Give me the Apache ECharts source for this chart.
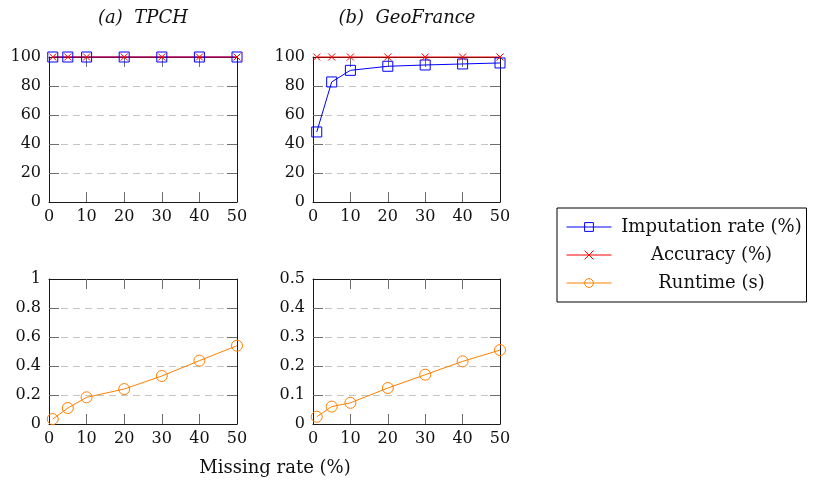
<!DOCTYPE html>
<html>
<head>
<meta charset="utf-8">
<script src="https://cdn.jsdelivr.net/npm/echarts@6/dist/echarts.min.js"></script>
<style>html,body{margin:0;padding:0;background:#fff}#c{width:814px;height:480px}</style>
</head>
<body>
<div id="c"></div>
<script>
const missingRates = [1, 5, 10, 20, 30, 40, 50];
const xTicks = [0, 10, 20, 30, 40, 50];
const panelTitles = ['(a)  TPCH', '(b)  GeoFrance'];
const seriesNames = ['Imputation rate (%)', 'Accuracy (%)', 'Runtime (s)'];
const tpchImputation = [100, 100, 100, 100, 100, 100, 100];
const tpchAccuracy = [100, 100, 100, 100, 100, 100, 100];
const tpchRuntime = [0.034, 0.110, 0.184, 0.241, 0.331, 0.437, 0.540];
const geoImputation = [48.3, 82.8, 90.8, 93.6, 94.5, 95.2, 95.9];
const geoAccuracy = [100, 100, 100, 100, 100, 100, 100];
const geoRuntime = [0.025, 0.060, 0.073, 0.124, 0.170, 0.216, 0.255];
const yTicksPct = [0, 20, 40, 60, 80, 100];
const yTicksTpchRt = [0, 0.2, 0.4, 0.6, 0.8, 1];
const yTicksGeoRt = [0, 0.1, 0.2, 0.3, 0.4, 0.5];
const xAxisTitle = 'Missing rate (%)';

const FONT = 'DejaVu Serif';
const BLUE = '#0000ff', RED = '#ff0000', ORANGE = '#ff8000';
const TICK = '#6e6e6e', AXIS = '#1a1a1a';

const grids = [
  {left: 49, top: 57, width: 188, height: 145},
  {left: 313, top: 57, width: 187, height: 145},
  {left: 49, top: 279, width: 188, height: 145},
  {left: 313, top: 279, width: 187, height: 145}
];
const yTickSets = [yTicksPct, yTicksPct, yTicksTpchRt, yTicksGeoRt];
const inner = arr => arr.slice(1, arr.length - 1);

const xAxes = [], yAxes = [];
grids.forEach((g, i) => {
  const base = {
    type: 'value', gridIndex: i, min: xTicks[0], max: xTicks[xTicks.length - 1], interval: 10,
    axisLine: {show: true, onZero: false, lineStyle: {color: AXIS, width: 1}},
    axisTick: {show: true, inside: true, length: 10, customValues: inner(xTicks), lineStyle: {color: TICK, width: 1}},
    splitLine: {show: false}
  };
  xAxes.push(Object.assign({}, base, {
    position: 'bottom',
    axisLabel: {color: '#111', fontFamily: FONT, fontSize: 16, margin: 7}
  }));
  xAxes.push(Object.assign({}, base, {position: 'top', axisLabel: {show: false}}));
  const yt = yTickSets[i];
  const yb = {
    type: 'value', gridIndex: i, min: yt[0], max: yt[yt.length - 1], interval: yt[1] - yt[0],
    axisLine: {show: true, onZero: false, lineStyle: {color: AXIS, width: 1}},
    axisTick: {show: true, inside: true, length: 10, customValues: inner(yt), lineStyle: {color: TICK, width: 1}}
  };
  yAxes.push(Object.assign({}, yb, {
    position: 'left',
    axisLabel: {color: '#111', fontFamily: FONT, fontSize: 16, margin: 8},
    splitLine: {show: true, lineStyle: {color: '#c4c4c4', type: [7, 5], width: 1}}
  }));
  yAxes.push(Object.assign({}, yb, {position: 'right', axisLabel: {show: false}, splitLine: {show: false}}));
});

const CROSS = 'path://M0,0L10,10M10,0L0,10';
const SQUARE = 'path://M0,0L10,0L10,10L0,10Z';
const styles = [
  {symbol: SQUARE, symbolSize: 10, color: BLUE},
  {symbol: CROSS, symbolSize: 7, color: RED},
  {symbol: 'circle', symbolSize: 11, color: ORANGE}
];
function mk(nameIdx, gridIdx, vals) {
  const s = styles[nameIdx];
  return {
    type: 'line', name: seriesNames[nameIdx],
    xAxisIndex: gridIdx * 2, yAxisIndex: gridIdx * 2,
    data: missingRates.map((x, k) => [x, vals[k]]),
    symbol: s.symbol, symbolSize: s.symbolSize, showAllSymbol: true,
    lineStyle: {color: s.color, width: 1},
    itemStyle: {color: 'rgba(0,0,0,0)', borderColor: s.color, borderWidth: 1},
    emphasis: {disabled: true}, animation: false, clip: false, z: 3
  };
}
const series = [
  mk(0, 0, tpchImputation), mk(1, 0, tpchAccuracy),
  mk(0, 1, geoImputation), mk(1, 1, geoAccuracy),
  mk(2, 2, tpchRuntime), mk(2, 3, geoRuntime)
];

const chart = echarts.init(document.getElementById('c'), null, {renderer: 'canvas'});
chart.setOption({
  animation: false,
  backgroundColor: '#fff',
  grid: grids.map(g => Object.assign({containLabel: false}, g)),
  xAxis: xAxes,
  yAxis: yAxes,
  series: series,
  legend: {
    data: seriesNames, orient: 'vertical', left: 557, top: 208,
    padding: [9, 0, 9, 9], itemWidth: 45, itemHeight: 11, itemGap: 8,
    borderColor: '#000', borderWidth: 1, borderRadius: 0, backgroundColor: '#fff',
    selectedMode: false,
    lineStyle: {width: 1},
    itemStyle: {borderWidth: 1},
    formatter: n => '{c|' + n + '}',
    textStyle: {fontFamily: FONT, fontSize: 18, color: '#111', lineHeight: 20,
      rich: {c: {width: 190, align: 'center', fontFamily: FONT, fontSize: 18, color: '#111', lineHeight: 20}}}
  },
  graphic: [
    {type: 'text', x: 143, y: 18, style: {text: panelTitles[0], font: 'italic 18px "DejaVu Serif"', fill: '#111', textAlign: 'center', textVerticalAlign: 'middle'}},
    {type: 'text', x: 407, y: 18, style: {text: panelTitles[1], font: 'italic 18px "DejaVu Serif"', fill: '#111', textAlign: 'center', textVerticalAlign: 'middle'}},
    {type: 'text', x: 275, y: 468, style: {text: xAxisTitle, font: '18px "DejaVu Serif"', fill: '#111', textAlign: 'center', textVerticalAlign: 'middle'}}
  ]
});
</script>
</body>
</html>
